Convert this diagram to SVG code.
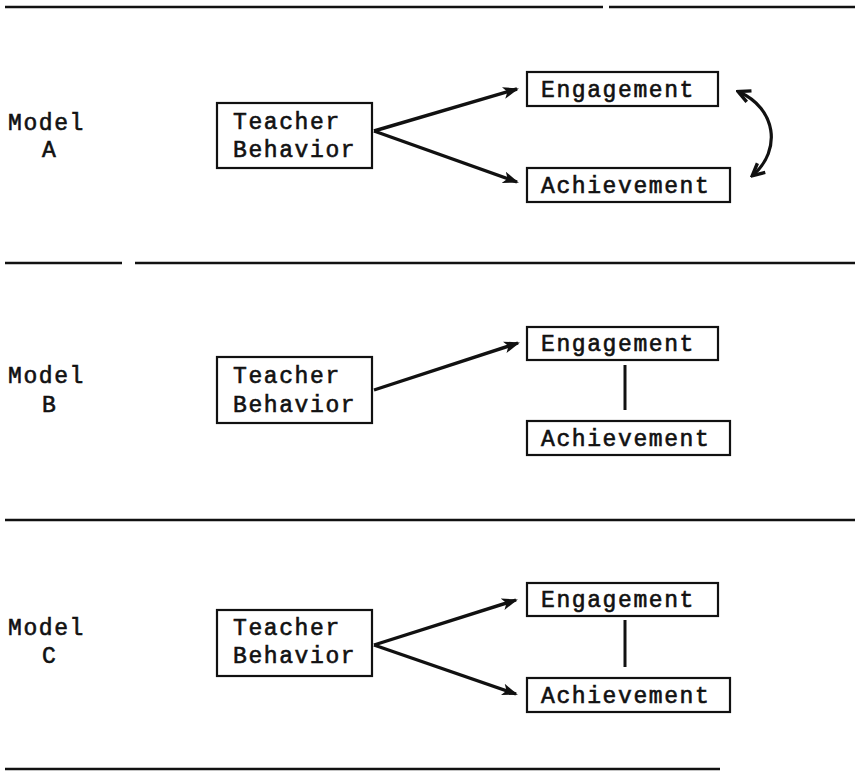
<svg xmlns="http://www.w3.org/2000/svg" width="855" height="771" viewBox="0 0 855 771">
<style>
.t{font-family:"Liberation Mono","DejaVu Sans Mono",monospace;font-size:23px;letter-spacing:1.6px;fill:#111;stroke:#111;stroke-width:0.6}
.box{fill:none;stroke:#111;stroke-width:2.2}
.rule{stroke:#111;stroke-width:2.5;fill:none}
.arr{stroke:#111;stroke-width:3.4;fill:none;marker-end:url(#ah)}
.link{stroke:#111;stroke-width:3;fill:none}
</style>
<defs>
<marker id="ah" markerUnits="userSpaceOnUse" markerWidth="16" markerHeight="14" viewBox="0 0 16 14" refX="14" refY="7" orient="auto">
<path d="M0,1 L16,7 L0,13 L4,7 Z" fill="#111"/>
</marker>
<marker id="ch" markerUnits="userSpaceOnUse" markerWidth="16" markerHeight="16" viewBox="0 0 16 16" refX="13" refY="8" orient="auto">
<path d="M2,2 L14,8 L2,14" fill="none" stroke="#111" stroke-width="3.4" stroke-linejoin="miter"/>
</marker>
<marker id="cs" markerUnits="userSpaceOnUse" markerWidth="16" markerHeight="16" viewBox="0 0 16 16" refX="3" refY="8" orient="auto">
<path d="M14,2 L2,8 L14,14" fill="none" stroke="#111" stroke-width="3.4" stroke-linejoin="miter"/>
</marker>
</defs>

<g id="rules">
<path class="rule" d="M5,7 H603 M609,7 H855"/>
<path class="rule" d="M5,263 H122 M135,263 H855"/>
<path class="rule" d="M5,520 H855"/>
<path class="rule" d="M5,769 H720"/>
</g>

<g id="labelA"><text class="t" x="8" y="130">Model</text><text class="t" x="42" y="157">A</text></g>
<g id="labelB"><text class="t" x="8" y="383">Model</text><text class="t" x="42" y="412">B</text></g>
<g id="labelC"><text class="t" x="8" y="635">Model</text><text class="t" x="42" y="663">C</text></g>

<g id="teacherA"><rect class="box" x="217" y="103" width="155" height="65"/><text class="t" x="233" y="129">Teacher</text><text class="t" x="233" y="157">Behavior</text></g>
<g id="engageA"><rect class="box" x="527" y="72" width="191" height="34"/><text class="t" x="541" y="97">Engagement</text></g>
<g id="achieveA"><rect class="box" x="527" y="168" width="203" height="34"/><text class="t" x="541" y="193">Achievement</text></g>

<g id="teacherB"><rect class="box" x="217" y="357" width="155" height="66"/><text class="t" x="233" y="383">Teacher</text><text class="t" x="233" y="412">Behavior</text></g>
<g id="engageB"><rect class="box" x="527" y="327" width="191" height="33"/><text class="t" x="541" y="351">Engagement</text></g>
<g id="achieveB"><rect class="box" x="527" y="421" width="203" height="34"/><text class="t" x="541" y="446">Achievement</text></g>

<g id="teacherC"><rect class="box" x="217" y="610" width="155" height="66"/><text class="t" x="233" y="635">Teacher</text><text class="t" x="233" y="663">Behavior</text></g>
<g id="engageC"><rect class="box" x="527" y="583" width="191" height="33"/><text class="t" x="541" y="607">Engagement</text></g>
<g id="achieveC"><rect class="box" x="527" y="678" width="203" height="34"/><text class="t" x="541" y="703">Achievement</text></g>

<g id="connectors">
<line class="arr" x1="374" y1="131" x2="517" y2="89"/>
<line class="arr" x1="374" y1="131" x2="517" y2="182"/>
<path d="M739,92 C776,108 782,150 753,175" fill="none" stroke="#111" stroke-width="3.2" marker-start="url(#cs)" marker-end="url(#ch)"/>
<line class="arr" x1="374" y1="390" x2="518" y2="343"/>
<line class="link" x1="625" y1="365" x2="625" y2="410"/>
<line class="arr" x1="374" y1="645" x2="516" y2="600"/>
<line class="arr" x1="374" y1="645" x2="516" y2="694"/>
<line class="link" x1="625" y1="620" x2="625" y2="667"/>
</g>
</svg>
